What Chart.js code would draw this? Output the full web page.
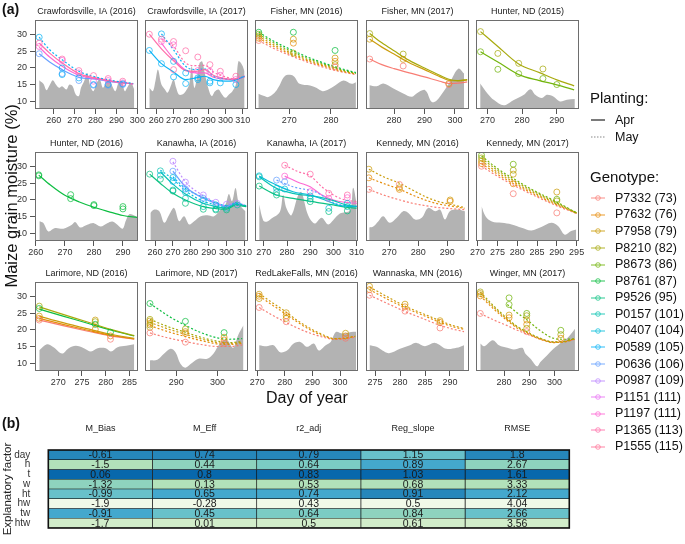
<!DOCTYPE html>
<html>
<head>
<meta charset="utf-8">
<script src="https://cdn.jsdelivr.net/npm/chart.js@4.4.1/dist/chart.umd.min.js"></script>
<style>
  body { margin: 0; background: #fff; }
  #page { position: relative; width: 685px; height: 544px; overflow: hidden; font-family: "Liberation Sans", Arial, Helvetica, sans-serif; color: #111; }
  #page canvas { position: absolute; }
  .t { position: absolute; white-space: nowrap; line-height: 1.2; }
</style>
</head>
<body>
<div id="page"></div>
<script>
// ---- panel (a) data ----
const genotypes = ['P7332 (73)', 'P7632 (76)', 'P7958 (79)', 'P8210 (82)', 'P8673 (86)', 'P8761 (87)',
  'P9526 (95)', 'P0157 (101)', 'P0407 (104)', 'P0589 (105)', 'P0636 (106)', 'P0987 (109)',
  'P1151 (111)', 'P1197 (111)', 'P1365 (113)', 'P1555 (115)'];
const plantings = ['Apr', 'May'];

const panelTitles = ['Crawfordsville, IA (2016)', 'Crawfordsville, IA (2017)', 'Fisher, MN (2016)', 'Fisher, MN (2017)',
  'Hunter, ND (2015)', 'Hunter, ND (2016)', 'Kanawha, IA (2016)', 'Kanawha, IA (2017)', 'Kennedy, MN (2016)',
  'Kennedy, MN (2017)', 'Larimore, ND (2016)', 'Larimore, ND (2017)', 'RedLakeFalls, MN (2016)',
  'Wannaska, MN (2016)', 'Winger, MN (2017)'];
const dayRanges = [[251, 300.3], [253.5, 313], [261.8, 286.5], [270.8, 304.6], [266.7, 296.4],
  [259.7, 295.2], [254.4, 312], [266.2, 310.6], [262, 297.5], [269.6, 295.6],
  [265.1, 286.8], [282.4, 307.4], [269.2, 306.5], [273.2, 293.8], [268.9, 309.7]];
const dayTicks = [[260, 270, 280, 290, 300], [260, 270, 280, 290, 300, 310], [270, 280], [280, 290, 300], [270, 280, 290],
  [260, 270, 280, 290], [260, 270, 280, 290, 300, 310], [270, 280, 290, 300, 310], [270, 280, 290], [270, 275, 280, 285, 290, 295],
  [270, 275, 280, 285], [290, 300], [270, 280, 290, 300], [275, 280, 285, 290], [280, 290, 300]];
const moistureTicks = [10, 15, 20, 25, 30];

// grey background series: [day, value]
const greyCraw16 = [[253,16.3],[255,15.2],[256.5,13.3],[258,14.8],[259.5,16.3],[261,15],[262.5,14],[264,14.5],[266,13.5],[267.5,15],[269,14.5],[270.5,12],[272,11.5],[273,14],[274.5,16],[276,18.5],[277.5,14.5],[279,13],[280.5,15.5],[282,16.5],[283.5,14],[285,15.5],[286.5,16.5],[288,14.5],[289.5,13],[291,15.5],[292.5,16],[294,13],[295.5,14.5],[297,15.5],[298.5,13.5]];
const greyCraw17 = [[256,14],[258,13],[259.5,16],[261,19.5],[263,15],[265,13.5],[266.5,12.5],[268,14],[270,16.5],[271.5,14],[273,12],[275,12],[277,13],[279,15],[280.5,20.5],[282,14],[283.5,17],[285,21.5],[286.5,22],[288,18.5],[290,14],[292,11.5],[294,13],[296,13.5],[298,12],[300,11],[302,12],[304,13],[306,15],[307.5,22],[309.5,21],[311,19]];
const greyFish16 = [[262.6,12.2],[264,11.5],[265,11.2],[266.5,12.5],[267.5,14.3],[269,17.6],[271,17.6],[272.5,15.2],[275,14.7],[276.5,14],[278,13],[279.5,13.6],[281,14.7],[283,16.2],[285,15.2],[286,15.7]];
const greyFish17 = [[271.9,14.8],[274.3,14.5],[276.5,15.3],[279.8,13.8],[283,12.3],[285.8,11.3],[287.4,12.3],[290.2,13.3],[292.4,9.7],[294,10.2],[296.2,12.8],[298.4,15.8],[301.1,19.8],[303,18.3]];
const greyHunt15 = [[267.9,15.3],[270,12.3],[271.9,10.3],[274.7,8.7],[277.6,10.3],[280.5,11.9],[282.4,13.6],[283.8,11.9],[285.7,10.9],[287.1,11.9],[289,11.4],[290.9,9.9],[292.9,10.4],[295.2,10.6]];
const greyHunt16 = [[261.2,13.6],[262.5,13.1],[264.3,10.5],[266.6,11.5],[269.5,11.3],[272.4,12.5],[273.6,13.3],[275.3,11.7],[277.7,12.5],[280,13],[282.3,12],[284.6,13],[286.4,13.5],[288.1,12.5],[289.9,11.3],[291,13.7],[292.2,15.7],[293.9,15.3],[295,14.8]];
const greyKana16 = [[257.4,16.1],[259.6,17.1],[262.4,16.6],[265.2,13.1],[268,15.6],[270.7,17.6],[273.5,13.6],[276.3,15.1],[279.1,12.6],[281.9,13.6],[285.6,15.1],[289.3,15.4],[293,15.1],[296.7,17.1],[299.4,18.6],[301.3,21.8],[303.1,19.6],[305,23.6],[306.8,19.1],[308.7,17.6],[310.6,16.6]];
const greyKana17 = [[268,18.6],[269.7,13.9],[271.2,13.4],[273.3,14.4],[276.9,16.4],[278.3,21.5],[279.8,17.4],[281.9,15.4],[284.8,21.5],[286.2,22.4],[289.1,15.4],[292,12.9],[294.9,14.6],[297.7,12.6],[299.9,13.9],[302.8,15.9],[307.1,16.9],[308.5,23.7],[310,19]];
const greyKenn16 = [[263.1,11.7],[264.5,12],[266.2,13.5],[267.9,15.1],[270.2,13.1],[272.6,14.6],[274.8,16.6],[276.6,16.1],[278.9,14.1],[281.2,14.6],[283.4,17.6],[285.8,16.6],[287.5,17.1],[289.2,14.1],[290.9,16.6],[293.2,17.1],[296.1,16.6]];
const greyKenn17 = [[271,18.1],[272,15.1],[273.6,13.5],[276.1,13.1],[278.6,12.6],[281.1,11.6],[283.6,10.8],[286.1,11.8],[288.6,13.1],[290.3,12.1],[292,9.5],[293.6,10.6],[294.9,11.1]];
const greyLari16 = [[266,13.9],[267.6,15.7],[269,14.8],[270.8,12.9],[272.2,14.5],[273.7,15.2],[275.4,14.5],[276.9,13.5],[278.3,14.5],[280,14.5],[281.1,13.5],[282.5,14.8],[284.3,15.2],[286,15.7]];
const greyLari17 = [[283.6,10.8],[285.4,11],[287,12.8],[288.6,14.3],[289.8,13.3],[291,9.8],[292.2,8.6],[293.8,10],[295.4,11.3],[297.5,11.3],[299,12.8],[300.6,15.9],[302.3,16.9],[303.8,14.6],[305,18.4],[306.3,21.4]];
const greyRedl16 = [[270.7,15.4],[273.4,15.1],[275.9,15.4],[278.3,13.3],[280.8,13.8],[283.2,15.9],[285.6,16.4],[288.1,14.9],[290.5,15.9],[292.3,13.8],[294.8,15.4],[296.6,16.4],[298.5,19.4],[300.9,18.9],[304,19.4],[305.8,19.5]];
const greyWann16 = [[273.9,15.4],[275.3,14.9],[277.7,13],[280,14.3],[282,15.4],[283.3,16.1],[285,15.1],[287,16.1],[289.3,14.3],[291.3,14.6],[292.8,15.4]];
const greyWing17 = [[270.6,15.9],[272.2,15.1],[275.5,16.9],[278,15.4],[281.3,14.6],[283.9,14.1],[287.2,14.6],[288.5,12.8],[290.5,11.3],[293.1,9],[294.4,10.3],[297,12.3],[299.6,14.3],[302.9,16.4],[305.5,17.9],[308.1,20.4]];

// fitted curves: g = genotype index, p = planting index, pts = [day, moisture]
const linesCraw16 = [
  {g: 9, p: 1, pts: [[253,29.3],[258,25.5],[264,22.5],[272,19],[280,17.3],[288,16.2],[298,15.3]]},
  {g: 14, p: 0, pts: [[253,27.5],[258,24.5],[264,21.5],[272,18.3],[280,17],[288,16],[298,15.2]]},
  {g: 13, p: 0, pts: [[253,26.3],[258,23.3],[264,20.5],[272,17.8],[280,16.8],[288,15.9],[298,15.2]]},
  {g: 10, p: 0, pts: [[253,24.3],[258,21.8],[264,19.5],[272,17.2],[280,16.6],[288,15.8],[298,15.2]]}];
const linesCraw17 = [
  {g: 9, p: 0, pts: [[256,25.3],[263,21.3],[270,18.8],[277,16.5],[283,17],[288,17.5],[293,16.5],[300,16],[305,16.2],[311,17.5]]},
  {g: 14, p: 0, pts: [[256,30.2],[263,25.8],[270,22.2],[277,19.2],[283,19],[288,19.5],[293,17.8],[300,16.8],[305,16.6],[311,17.4]]},
  {g: 9, p: 1, pts: [[263,30.3],[270,25.5],[277,20.5],[283,19.5],[288,19.7],[293,17.5],[300,16.7],[305,16.5],[311,17.5]]},
  {g: 14, p: 1, pts: [[263,28.7],[270,26.5],[277,21.5],[283,20.7],[288,20.8],[293,18.8],[300,17.3],[305,16.8],[311,17.6]]},
  {g: 13, p: 0, pts: [[263,27.5],[270,22.8],[277,19.3],[283,18.5],[288,18.5],[293,17.2],[300,16.6],[305,16.4],[311,17.3]]}];
const linesFish16 = [
  {g: 5, p: 1, pts: [[262.7,30.8],[266,28.3],[270,25.8],[275,23],[280,20.8],[283,19.6],[286,18.6]]},
  {g: 4, p: 1, pts: [[262.7,30.2],[266,27.8],[270,25.3],[275,22.6],[280,20.5],[283,19.3],[286,18.4]]},
  {g: 2, p: 1, pts: [[262.7,29.6],[266,27.2],[270,24.8],[275,22.2],[280,20.2],[283,19.1],[286,18.3]]},
  {g: 1, p: 1, pts: [[262.7,29],[266,26.7],[270,24.4],[275,21.9],[280,19.9],[283,18.9],[286,18.2]]},
  {g: 0, p: 1, pts: [[262.7,28.3],[266,26.1],[270,23.9],[275,21.5],[280,19.6],[283,18.7],[286,18]]}];
const linesFish17 = [
  {g: 3, p: 0, pts: [[272,30.4],[276,27.6],[280,25.2],[285,22.3],[290,20],[295,17.8],[298,16.6],[301,16.2],[304,16.5]]},
  {g: 2, p: 0, pts: [[272,28.7],[276,26.3],[280,24.2],[285,21.6],[290,19.5],[295,17.4],[298,16.3],[301,16.1],[304,16.4]]},
  {g: 0, p: 0, pts: [[272,22.7],[276,21],[280,19.8],[285,18.5],[290,17.3],[295,16],[298,15.3],[301,15.4],[304,15.8]]}];
const linesHunt15 = [
  {g: 3, p: 0, pts: [[268,31],[273,26.5],[279,21.2],[285,18.6],[290,16.4],[295,14.6]]},
  {g: 4, p: 0, pts: [[268,24.9],[273,21.8],[279,18],[285,16.2],[290,14.9],[295,13.4]]}];
const linesHunt16 = [
  {g: 5, p: 0, pts: [[261,27.5],[265,24.5],[270,21.4],[275,19.4],[280,17.8],[285,16.5],[290,15.3],[295,14.7]]}];
const linesKana16 = [
  {g: 6, p: 0, pts: [[257,27.8],[263,25],[270,22],[277,20],[287,18],[294,17.4],[300,17.2],[305,18.4],[311,18]]},
  {g: 7, p: 0, pts: [[263,28.5],[270,24.8],[277,21.8],[287,19],[294,18],[300,17.5],[305,18.7],[311,18.2]]},
  {g: 8, p: 1, pts: [[263,29],[270,26.3],[277,22.8],[287,19.6],[294,18.5],[300,17.7],[305,19],[311,18.3]]},
  {g: 11, p: 1, pts: [[270,31.5],[277,25.5],[287,21.3],[294,19.3],[300,18.2],[305,19.3],[311,18.2]]},
  {g: 10, p: 0, pts: [[270,28.7],[277,24],[287,20.5],[294,19],[300,18],[305,19],[311,18]]},
  {g: 9, p: 1, pts: [[270,27],[277,23.5],[287,20.8],[294,19.2],[300,18.3],[305,19.1],[311,18.1]]}];
const linesKana17 = [
  {g: 8, p: 0, pts: [[268,27.2],[275.5,24.5],[282.6,22.5],[290,21.5],[297,19.8],[303,18.3],[310,18]]},
  {g: 7, p: 0, pts: [[268,27],[275.5,23.5],[282.6,22],[292.7,21],[300,19.8],[305,18.6],[310,18]]},
  {g: 6, p: 0, pts: [[268,24.2],[275.5,21.5],[282.6,20.5],[292.7,19.3],[300,18.5],[305,17.8],[310,17.5]]},
  {g: 10, p: 1, pts: [[275.5,26],[282.6,24],[292.7,22.3],[300,19.2],[305,18.3],[310,18.2]]},
  {g: 13, p: 0, pts: [[279,27.2],[285,25.3],[290,24],[295,21.5],[300,20],[305,19.3],[310,19]]},
  {g: 14, p: 1, pts: [[279,30.5],[285,28.5],[290,27.3],[295,24],[300,21.5],[305,20],[310,19.5]]}];
const linesKenn16 = [
  {g: 2, p: 1, pts: [[263,29.3],[268,27],[273.7,25],[278,23],[283,20.8],[287,19.5],[291,18.7],[296,17.7]]},
  {g: 1, p: 1, pts: [[263,26.7],[268,25],[273.7,23.2],[278,21.5],[283,19.8],[287,18.8],[291,18.2],[296,17.5]]},
  {g: 0, p: 1, pts: [[263,23.2],[268,21.5],[273.7,20],[278,19],[283,18.2],[287,17.7],[291,17.4],[296,17.1]]}];
const linesKenn17 = [
  {g: 4, p: 1, pts: [[271,33.3],[275,29.5],[279,26.5],[284,23],[289.5,19.7],[295,16.1]]},
  {g: 3, p: 1, pts: [[271,32.6],[275,29],[279,26],[284,22.7],[289.5,19.4],[295,16.1]]},
  {g: 2, p: 1, pts: [[271,31.8],[275,28.4],[279,25.5],[284,22.3],[289.5,19.1],[295,16]]},
  {g: 1, p: 1, pts: [[271,31],[275,27.8],[279,25],[284,21.9],[289.5,18.8],[295,16]]},
  {g: 0, p: 1, pts: [[271,30.2],[275,27.2],[279,24.5],[284,21.5],[289.5,18.5],[295,15.9]]}];
const linesLari16 = [
  {g: 3, p: 0, pts: [[266,27],[271,24.7],[276,22.5],[281,20.2],[286,18.3]]},
  {g: 5, p: 0, pts: [[266,26.3],[271,24.2],[276,22.1],[281,20],[286,18.2]]},
  {g: 2, p: 0, pts: [[266,24.2],[271,22.2],[276,20.4],[281,18.7],[286,17.5]]},
  {g: 1, p: 0, pts: [[266,23.5],[271,21.7],[276,20],[281,18.4],[286,17.3]]},
  {g: 0, p: 0, pts: [[266,23],[271,21.3],[276,19.7],[281,18.2],[286,17.2]]}];
const linesLari17 = [
  {g: 5, p: 1, pts: [[283.6,28],[288,24.3],[292.2,21.4],[296,19.2],[300,17.6],[303,17.2],[306,17.4]]},
  {g: 3, p: 1, pts: [[283.6,23.2],[288,21],[292.2,19.3],[296,17.8],[300,16.6],[303,16.2],[306,16.5]]},
  {g: 2, p: 1, pts: [[283.6,22.3],[288,20.3],[292.2,18.7],[296,17.3],[300,16.2],[303,15.9],[306,16.3]]},
  {g: 1, p: 1, pts: [[283.6,21.3],[288,19.5],[292.2,18],[296,16.8],[300,15.8],[303,15.6],[306,16]]},
  {g: 0, p: 1, pts: [[283.6,19.1],[288,17.6],[292.2,16.5],[296,15.6],[300,15],[303,15],[306,15.5]]}];
const linesRedl16 = [
  {g: 2, p: 1, pts: [[270.7,31],[275,28.5],[279.5,26],[284,23.2],[289.3,20.4],[294,18.5],[297.8,17.4],[301,17.5],[305.5,18]]},
  {g: 1, p: 1, pts: [[270.7,30.3],[275,27.8],[279.5,25.3],[284,22.7],[289.3,20],[294,18.2],[297.8,17.3],[301,17.4],[305.5,18.2]]},
  {g: 0, p: 1, pts: [[270.7,26.8],[275,24.7],[279.5,22.7],[284,20.8],[289.3,19],[294,17.8],[297.8,17.2],[301,17.3],[305.5,17.8]]}];
const linesWann16 = [
  {g: 2, p: 1, pts: [[273.9,33],[277.5,30],[281,27.2],[284.5,25],[288,22.8],[290.5,21.4],[292.8,20.5]]},
  {g: 1, p: 1, pts: [[273.9,32.2],[277.5,29.3],[281,26.7],[284.5,24.5],[288,22.3],[290.5,21],[292.8,20.2]]},
  {g: 0, p: 1, pts: [[273.9,30.5],[277.5,28],[281,25.6],[284.5,23.5],[288,21.4],[290.5,20.3],[292.8,19.5]]}];
const linesWing17 = [
  {g: 3, p: 1, pts: [[270.6,31.5],[276,27.2],[281.3,23.5],[285,21.2],[289.2,19.4],[294,17.6],[299.6,16.4],[304,16.6],[308,17.4]]},
  {g: 2, p: 1, pts: [[270.6,31],[276,26.8],[281.3,23.2],[285,21],[289.2,19.2],[294,17.5],[299.6,16.3],[304,16.5],[308,17.3]]},
  {g: 1, p: 1, pts: [[270.6,30.3],[276,26.3],[281.3,22.8],[285,20.7],[289.2,19],[294,17.3],[299.6,16.2],[304,16.4],[308,17.2]]},
  {g: 4, p: 1, pts: [[281.3,27.7],[285,25.3],[289.2,23],[294,20],[299.6,17.5],[304,17.2],[308,17.3]]},
  {g: 0, p: 1, pts: [[270.6,25],[276,23],[281.3,21.3],[285,20],[289.2,18.7],[294,17.3],[299.6,16.3],[304,16.6],[308,17]]}];

// observations: [day, moisture, genotype]
const obsCraw16 = [[253,29.3,9],[253,27.5,14],[253,26.5,13],[253,24.3,10],[264,22.7,14],[264,22.3,13],[264,20,9],[264,18.3,10],[264,18,9],[272,19.2,14],[272,18.5,13],[272,17,9],[272,16.2,10],[279,17.7,14],[279,16,13],[279,15,9],[279,14.8,10],[286,16.8,14],[286,16.2,13],[286,15,9],[286,14.8,10],[293,16,14],[293,15.5,13],[293,15.2,9],[293,15,10]];
const obsCraw17 = [[256,30.2,14],[256,25.3,9],[263,30.3,9],[263,28.7,14],[263,28,13],[263,21.3,9],[270,28,14],[270,27,13],[270,22,9],[270,19.5,14],[270,17.3,9],[277,25.2,14],[277,18.5,9],[277,15.3,9],[284,23.3,14],[284,19.2,13],[284,17,9],[284,16.5,9],[291,21,14],[291,19,13],[291,16,9],[291,15.5,9],[297,19,14],[297,17.8,13],[297,15.5,9],[306,17.5,14],[306,16.5,13],[306,15,9]];
const obsFish16 = [[262.7,30.8,5],[262.7,30.2,4],[262.7,29.6,2],[262.7,29,1],[262.7,28.3,0],[271,30.8,5],[271,28.7,2],[271,27.5,1],[271,24.5,3],[281,25.3,5],[281,23,2],[281,22,1],[281,21,3],[281,20.3,0]];
const obsFish17 = [[272,30.4,3],[272,28.7,2],[272,22.7,0],[283,24.2,3],[283,22.6,2],[283,20.6,0],[298,15.3,2],[298,15,0]];
const obsHunt15 = [[268,31,3],[268,24.9,4],[273,24.4,3],[273,19.6,4],[279,21.4,3],[279,18.3,4],[286,19.7,3],[286,16.8,4],[290,15,4]];
const obsHunt16 = [[261,27.6,5],[261,27.3,5],[272,21.6,5],[272,20.4,5],[280,18.6,5],[280,18.3,5],[290,18,5],[290,17.3,5]];
const obsKana16 = [[257,27.8,6],[263,28.8,7],[263,27.5,8],[263,26.3,6],[270,31.7,11],[270,28.7,10],[270,26.8,8],[270,25.6,9],[270,23,7],[270,22.7,6],[277,25.4,11],[277,23.3,10],[277,22.3,8],[277,20.5,7],[277,19,6],[287,21.5,11],[287,20.5,10],[287,19.8,8],[287,18,7],[287,17.2,6],[294,19.3,11],[294,18.5,8],[294,17.3,7],[294,17,6],[300,18.7,11],[300,17.5,8],[300,17,6],[306,19,11],[306,18.5,7]];
const obsKana17 = [[268,27.3,8],[268,27,7],[268,24.2,6],[275.5,26,10],[275.5,23.5,8],[275.5,22.3,7],[275.5,21.5,6],[279,30.5,14],[279,27.2,13],[279,25.5,10],[279,23.3,8],[290,27.8,14],[290,22.5,13],[290,21.2,8],[290,20.3,7],[290,19.5,6],[298,22,14],[298,20.5,13],[298,17.5,8],[298,16.5,6],[306,21.5,14],[306,20.7,13],[306,19,8],[306,18,7],[306,16.7,6]];
const obsKenn16 = [[263,29.3,2],[263,26.7,1],[263,23.2,0],[273.5,24.7,0],[273.5,23.7,2],[273.5,23.2,1],[291,20,2],[291,19.6,1]];
const obsKenn17 = [[271,33.5,4],[271,32.7,3],[271,31.8,2],[271,31,1],[271,30.2,0],[279,30.8,4],[279,29,3],[279,27.8,2],[279,24.9,1],[279,21.9,0],[290,22.4,2],[290,20.2,4],[290,19.7,3],[290,16.1,0]];
const obsLari16 = [[266,27.2,3],[266,26.5,5],[266,24.2,2],[266,23.5,1],[266,23,0],[277.8,23,2],[277.8,22.5,3],[277.8,21.7,5],[277.8,20.2,1],[281,19.3,5],[281,18.2,1],[281,17.2,0]];
const obsLari17 = [[283.6,28,5],[283.6,23.2,3],[283.6,22.7,2],[283.6,22,1],[283.6,21.5,3],[283.6,20.8,2],[283.6,19.1,0],[292.2,22.6,5],[292.2,20.3,3],[292.2,19.5,2],[292.2,19,1],[292.2,16.3,0],[301.6,19.2,5],[301.6,17.8,2],[301.6,17,1],[301.6,16,0]];
const obsRedl16 = [[270.7,30.8,2],[270.7,30.2,1],[270.7,29.5,2],[270.7,26.8,0],[280.5,25.2,2],[280.5,24.3,1],[280.5,23.5,2],[280.5,22.5,0],[302,19,2],[302,18.2,1],[302,17.5,0]];
const obsWann16 = [[273.9,33.2,2],[273.9,32.2,1],[273.9,30.5,0],[281,27.8,2],[281,27,1],[281,25.7,0],[288,22.8,2],[288,22.3,1],[288,20.6,0]];
const obsWing17 = [[270.6,31.5,3],[270.6,31,2],[270.6,30.3,1],[270.6,25,0],[282,29.7,4],[282,27.7,4],[282,24.5,2],[282,23.7,1],[289,25,4],[289,24.3,3],[289,23,2],[289,21.7,1],[289,20.5,3],[289,19.5,0],[302.5,19.9,4],[302.5,18.6,3],[302.5,17.5,1]];

// ---- panel (b) data ----
const factors = ['day', 'h', 't', 'w', 'ht', 'hw', 'tw', 'htw'];
const metrics = ['M_Bias', 'M_Eff', 'r2_adj', 'Reg_slope', 'RMSE'];
const mBias = [-0.61, -1.5, 0.06, -1.32, -0.99, -1.9, -0.91, -1.7];
const mEff = [0.74, 0.44, 0.8, 0.13, 0.65, -0.28, 0.45, 0.01];
const r2Adj = [0.79, 0.64, 0.83, 0.53, 0.74, 0.43, 0.64, 0.5];
const regSlope = [1.15, 0.89, 1.03, 0.68, 0.91, 0.5, 0.84, 0.61];
const rmse = [1.8, 2.67, 1.61, 3.33, 2.12, 4.04, 2.66, 3.56];

// ---------------------------------------------------------------
const FONT = '"Liberation Sans", Arial, Helvetica, sans-serif';
Chart.defaults.font.family = FONT;
Chart.defaults.color = '#333';

const genoColors = ['#F8766D', '#E58700', '#C99800', '#A3A500', '#6BB100', '#00BA38', '#00BF7D', '#00C0AF',
  '#00BCD8', '#00B0F6', '#619CFF', '#B983FF', '#E76BF3', '#FD61D1', '#FF67A4', '#FF6C91'];

function rgba(hex, a) {
  const n = parseInt(hex.slice(1), 16);
  return `rgba(${n >> 16},${(n >> 8) & 255},${n & 255},${a})`;
}

const page = document.getElementById('page');

function addText(str, x, cy, size, extra) {
  const d = document.createElement('div');
  d.className = 't';
  d.textContent = str;
  d.style.left = x + 'px';
  d.style.top = (cy - size * 0.6) + 'px';
  d.style.fontSize = size + 'px';
  Object.assign(d.style, extra || {});
  page.appendChild(d);
  return d;
}

// ---- small multiples ----
const panelGrey = [greyCraw16, greyCraw17, greyFish16, greyFish17, greyHunt15, greyHunt16, greyKana16, greyKana17,
  greyKenn16, greyKenn17, greyLari16, greyLari17, greyRedl16, greyWann16, greyWing17];
const panelLines = [linesCraw16, linesCraw17, linesFish16, linesFish17, linesHunt15, linesHunt16, linesKana16, linesKana17,
  linesKenn16, linesKenn17, linesLari16, linesLari17, linesRedl16, linesWann16, linesWing17];
const panelObs = [obsCraw16, obsCraw17, obsFish16, obsFish17, obsHunt15, obsHunt16, obsKana16, obsKana17,
  obsKenn16, obsKenn17, obsLari16, obsLari17, obsRedl16, obsWann16, obsWing17];

const colLeft = [35, 144.5, 255, 366, 475.5];
const rowTop = [20, 152, 282];
const boxW = 103, boxH = 89;
const yLeft = 34, padRight = 34, titleH = 20, xAxisH = 22;

const framePlugin = {
  id: 'frame',
  afterDraw(chart) {
    const {ctx, chartArea: a} = chart;
    ctx.save();
    ctx.strokeStyle = '#6e6e6e';
    ctx.lineWidth = 1;
    ctx.strokeRect(Math.round(a.left) + 0.5, Math.round(a.top) + 0.5, Math.round(a.width) - 1, Math.round(a.height) - 1);
    ctx.fillStyle = '#222';
    ctx.font = '9px ' + FONT;
    ctx.textAlign = 'center';
    ctx.textBaseline = 'middle';
    ctx.fillText(chart.options.plugins.frame.title, (a.left + a.right) / 2, a.top - 8);
    ctx.restore();
  }
};

panelTitles.forEach((title, k) => {
  const col = k % 5, row = Math.floor(k / 5);
  const cv = document.createElement('canvas');
  cv.width = boxW + yLeft + padRight;
  cv.height = boxH + titleH + xAxisH;
  cv.style.left = (colLeft[col] - yLeft) + 'px';
  cv.style.top = (rowTop[row] - titleH) + 'px';
  page.appendChild(cv);

  const datasets = [];
  datasets.push({
    data: panelObs[k].map(o => ({x: o[0], y: o[1], g: o[2]})),
    showLine: false,
    pointRadius: 3,
    pointBorderWidth: 1,
    pointBackgroundColor: 'rgba(0,0,0,0)',
    pointBorderColor: ctx => rgba(genoColors[ctx.raw ? ctx.raw.g : 0], 0.7),
    order: 1
  });
  panelLines[k].forEach(l => {
    datasets.push({
      data: l.pts.map(p => ({x: p[0], y: p[1]})),
      borderColor: rgba(genoColors[l.g], 0.95),
      borderWidth: 1.2,
      borderDash: l.p === 1 ? [2, 2] : [],
      pointRadius: 0,
      cubicInterpolationMode: 'monotone',
      fill: false,
      order: 2
    });
  });
  datasets.push({
    data: panelGrey[k].map(p => ({x: p[0], y: p[1]})),
    borderWidth: 0,
    borderColor: 'rgba(0,0,0,0)',
    backgroundColor: '#b3b3b3',
    pointRadius: 0,
    tension: 0.35,
    fill: 'start',
    order: 3
  });

  new Chart(cv, {
    type: 'line',
    data: {datasets},
    plugins: [framePlugin],
    options: {
      responsive: false,
      animation: false,
      events: [],
      layout: {padding: {top: titleH, right: padRight, left: 0, bottom: 0}},
      plugins: {legend: {display: false}, tooltip: {enabled: false}, frame: {title}},
      scales: {
        x: {
          type: 'linear',
          min: dayRanges[k][0],
          max: dayRanges[k][1],
          afterBuildTicks: s => { s.ticks = dayTicks[k].map(v => ({value: v})); },
          afterFit: s => { s.height = xAxisH; },
          border: {display: false},
          grid: {drawOnChartArea: false, tickLength: 5, color: '#555'},
          ticks: {font: {size: 9}, color: '#333', padding: 1, maxRotation: 0, autoSkip: false, callback: v => String(v)}
        },
        y: {
          min: 7.6,
          max: 34.5,
          afterBuildTicks: s => { s.ticks = moistureTicks.map(v => ({value: v})); },
          afterFit: s => { s.width = yLeft; },
          border: {display: false},
          grid: {display: col === 0, drawOnChartArea: false, tickLength: 5, color: '#555'},
          ticks: {display: col === 0, font: {size: 9}, color: '#333', padding: 3}
        }
      }
    }
  });
});

// ---- shared labels and legend ----
addText('(a)', 2, 9, 14, {fontWeight: 'bold'});
const ylab = addText('Maize grain moisture (%)', 0, 196, 16.5);
ylab.style.left = (11 - ylab.offsetWidth / 2) + 'px';
ylab.style.transform = 'rotate(-90deg)';
const dayLab = addText('Day of year', 0, 398, 16);
dayLab.style.left = (307 - dayLab.offsetWidth / 2) + 'px';

addText('Planting:', 590, 98, 15);
plantings.forEach((p, i) => {
  const y = 120 + i * 17;
  const svg = `<svg width="16" height="6" style="position:absolute;left:591px;top:${y - 3}px"><line x1="0" y1="3" x2="14" y2="3" stroke="${i ? '#888' : '#222'}" stroke-width="1.2" ${i ? 'stroke-dasharray="1.5,1.5"' : ''}/></svg>`;
  page.insertAdjacentHTML('beforeend', svg);
  addText(p, 615, y, 12.5);
});

addText('Genotype:', 590, 177, 15);
genotypes.forEach((g, i) => {
  const y = 198.3 + i * 16.57;
  const c = genoColors[i];
  const svg = `<svg width="16" height="10" style="position:absolute;left:591px;top:${y - 5}px"><line x1="0" y1="5" x2="14" y2="5" stroke="${rgba(c, 0.7)}" stroke-width="1.2"/><circle cx="7" cy="5" r="2.3" fill="none" stroke="${rgba(c, 0.7)}" stroke-width="1"/></svg>`;
  page.insertAdjacentHTML('beforeend', svg);
  addText(g, 615, y, 12.5);
});

addText('(b)', 2, 423, 14, {fontWeight: 'bold'});

// ---- heat table ----
const metricValues = [mBias, mEff, r2Adj, regSlope, rmse];
const goodness = [v => -Math.abs(v), v => v, v => v, v => -Math.abs(1 - v), v => -v];
const heatStops = ['#f0f9e8', '#ccebc5', '#a8ddb5', '#7bccc4', '#4eb3d3', '#2b8cbe', '#0868ac'];

function mixHex(a, b, f) {
  const pa = parseInt(a.slice(1), 16), pb = parseInt(b.slice(1), 16);
  const ch = s => [(s >> 16) & 255, (s >> 8) & 255, s & 255];
  const ca = ch(pa), cb = ch(pb);
  return `rgb(${ca.map((v, i) => Math.round(v + (cb[i] - v) * f)).join(',')})`;
}
function heat(t) {
  const p = t * (heatStops.length - 1);
  const i = Math.min(Math.floor(p), heatStops.length - 2);
  return mixHex(heatStops[i], heatStops[i + 1], p - i);
}
function rankColors(vals, good) {
  const s = vals.map(v => Math.round(good(v) * 1000));
  return s.map(v => {
    let below = 0, eq = 0;
    s.forEach(o => { if (o < v) below++; else if (o === v) eq++; });
    return heat((below + (eq - 1) / 2) / (s.length - 1));
  });
}

const tableCanvas = document.createElement('canvas');
tableCanvas.width = 685;
tableCanvas.height = 139;
tableCanvas.style.left = '0px';
tableCanvas.style.top = '405px';
page.appendChild(tableCanvas);

const cellText = {
  id: 'cellText',
  afterDatasetsDraw(chart) {
    const {ctx, chartArea: a} = chart;
    ctx.save();
    ctx.font = '10.5px ' + FONT;
    ctx.fillStyle = '#1a1a1a';
    ctx.textAlign = 'center';
    ctx.textBaseline = 'middle';
    chart.data.datasets.forEach((ds, c) => {
      chart.getDatasetMeta(c).data.forEach((bar, r) => {
        ctx.fillText(String(metricValues[c][r]), (bar.x + bar.base) / 2, bar.y + 0.5);
      });
    });
    ctx.strokeStyle = '#111';
    ctx.lineWidth = 1.6;
    ctx.strokeRect(a.left, a.top, a.width, a.height);
    ctx.restore();
  }
};

new Chart(tableCanvas, {
  type: 'bar',
  data: {
    labels: factors,
    datasets: metrics.map((m, c) => ({
      label: m,
      data: factors.map(() => [c, c + 1]),
      backgroundColor: rankColors(metricValues[c], goodness[c]),
      borderColor: '#111',
      borderWidth: 0.7,
      borderSkipped: false,
      barPercentage: 1,
      categoryPercentage: 1,
      grouped: false
    }))
  },
  plugins: [cellText],
  options: {
    indexAxis: 'y',
    responsive: false,
    animation: false,
    events: [],
    layout: {padding: {left: 0, right: 115.7, top: 0, bottom: 0.7}},
    plugins: {legend: {display: false}, tooltip: {enabled: false}},
    scales: {
      x: {
        type: 'linear',
        position: 'top',
        min: 0,
        max: 5,
        afterBuildTicks: s => { s.ticks = metrics.map((m, i) => ({value: i + 0.5})); },
        afterFit: s => { s.height = 45; },
        grid: {display: false},
        border: {display: false},
        ticks: {font: {size: 9}, color: '#222', padding: 8, autoSkip: false, callback: v => metrics[Math.floor(v)]}
      },
      y: {
        type: 'category',
        afterFit: s => { s.width = 48.3; },
        grid: {display: false},
        border: {display: false},
        ticks: {font: {size: 10}, color: '#333', padding: 10, autoSkip: false},
        title: {display: true, text: 'Explanatory factor', font: {size: 11.5}, color: '#222', padding: {top: 1, bottom: 0}}
      }
    }
  }
});
</script>
</body>
</html>
